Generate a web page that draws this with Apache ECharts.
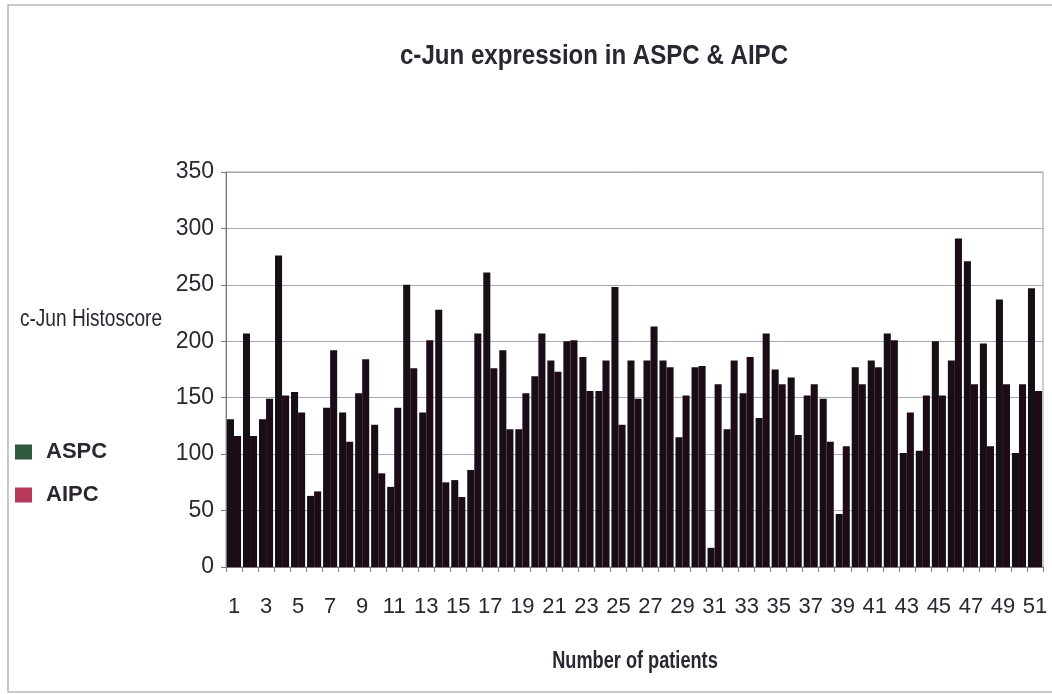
<!DOCTYPE html>
<html>
<head>
<meta charset="utf-8">
<title>c-Jun expression in ASPC &amp; AIPC</title>
<script src="https://cdn.jsdelivr.net/npm/echarts@6/dist/echarts.min.js"></script>
<style>
  html, body { margin: 0; padding: 0; background: #ffffff; }
  #chart { width: 1052px; height: 694px; }
</style>
</head>
<body>
<div id="chart"></div>
<script>
// Patient numbers 1..51
const patients = [
  '1','2','3','4','5','6','7','8','9','10',
  '11','12','13','14','15','16','17','18','19','20',
  '21','22','23','24','25','26','27','28','29','30',
  '31','32','33','34','35','36','37','38','39','40',
  '41','42','43','44','45','46','47','48','49','50','51'
];

// c-Jun histoscore, androgen-sensitive tumours
const aspc = [
  131, 207, 131, 276, 155, 63, 141, 137, 154, 126,
  71, 250, 137, 228, 77, 86, 261, 192, 122, 169,
  183, 200, 186, 156, 248, 183, 183, 183, 115, 177,
  17, 122, 154, 132, 175, 168, 152, 149, 47, 177,
  183, 207, 101, 103, 200, 183, 271, 198, 237, 101, 247
];

// c-Jun histoscore, androgen-insensitive tumours
const aipc = [
  116, 116, 149, 152, 137, 67, 192, 111, 184, 83,
  141, 176, 201, 75, 62, 207, 176, 122, 154, 207,
  173, 201, 156, 183, 126, 149, 213, 177, 152, 178,
  162, 183, 186, 207, 162, 117, 162, 111, 107, 162,
  177, 201, 137, 152, 152, 291, 162, 107, 162, 162, 156
];

const yTicks = [0, 50, 100, 150, 200, 250, 300, 350];

const FONT = '"Liberation Sans", Arial, sans-serif';
const TEXT = '#2b2630';

const chart = echarts.init(document.getElementById('chart'), null, { renderer: 'canvas' });

// Horizontally squeezed text, for the narrow headings
function narrowText(x, y, text, size, weight, squeeze) {
  return {
    type: 'text',
    x: x,
    y: y,
    scaleX: squeeze,
    silent: true,
    style: {
      text: text,
      fontFamily: FONT,
      fontSize: size,
      fontWeight: weight,
      fill: TEXT,
      textAlign: 'center',
      textVerticalAlign: 'middle'
    }
  };
}

chart.setOption({
  animation: false,
  backgroundColor: '#ffffff',
  legend: {
    orient: 'vertical',
    left: 10,
    top: 436,
    itemWidth: 17,
    itemHeight: 15,
    itemGap: 21,
    icon: 'rect',
    textStyle: { fontFamily: FONT, fontSize: 22, fontWeight: 'bold', color: TEXT, padding: [0, 0, 0, 9] },
    data: [
      { name: 'ASPC', itemStyle: { color: '#2f5a3c' } },
      { name: 'AIPC', itemStyle: { color: '#b8385a' } }
    ]
  },
  graphic: [
    {
      type: 'rect',
      shape: { x: 8, y: 5, width: 1060, height: 687 },
      style: { fill: 'none', stroke: '#b8b8b8', lineWidth: 1.5 },
      silent: true
    },
    narrowText(594, 56, 'c-Jun expression in ASPC & AIPC', 28, 'bold', 0.86),
    narrowText(91, 320, 'c-Jun Histoscore', 23, 'normal', 0.83),
    narrowText(635, 662, 'Number of patients', 23, 'bold', 0.79)
  ],
  grid: {
    left: 226,
    top: 172,
    right: 9,
    bottom: 127,
    show: true,
    borderColor: '#9a9a9a',
    borderWidth: 1,
    backgroundColor: '#ffffff'
  },
  xAxis: {
    type: 'category',
    data: patients,
    axisLine: { lineStyle: { color: '#7a7a7a', width: 1 } },
    axisTick: { show: true, interval: 0, length: 5, lineStyle: { color: '#7a7a7a' } },
    axisLabel: { interval: 1, margin: 29, fontFamily: FONT, fontSize: 22, color: TEXT }
  },
  yAxis: {
    type: 'value',
    min: yTicks[0],
    max: yTicks[yTicks.length - 1],
    interval: 50,
    axisLine: { show: true, lineStyle: { color: '#7a7a7a', width: 1 } },
    axisTick: { show: true, length: 5, lineStyle: { color: '#7a7a7a' } },
    axisLabel: { margin: 12, fontFamily: FONT, fontSize: 23, color: TEXT },
    splitLine: { lineStyle: { color: '#a8a8b0', width: 1 } }
  },
  series: [
    {
      name: 'ASPC',
      type: 'bar',
      data: aspc,
      barGap: '0%',
      barCategoryGap: '12%',
      itemStyle: {
        color: new echarts.graphic.LinearGradient(0, 0, 0, 1, [
          { offset: 0, color: '#2e3d33' },
          { offset: 0.35, color: '#1d201e' },
          { offset: 1, color: '#160f16' }
        ], true)
      }
    },
    {
      name: 'AIPC',
      type: 'bar',
      data: aipc,
      barGap: '0%',
      barCategoryGap: '12%',
      itemStyle: {
        color: new echarts.graphic.LinearGradient(0, 0, 0, 1, [
          { offset: 0, color: '#55223e' },
          { offset: 0.35, color: '#311425' },
          { offset: 1, color: '#1d0c18' }
        ], true)
      }
    }
  ]
});
</script>
</body>
</html>
